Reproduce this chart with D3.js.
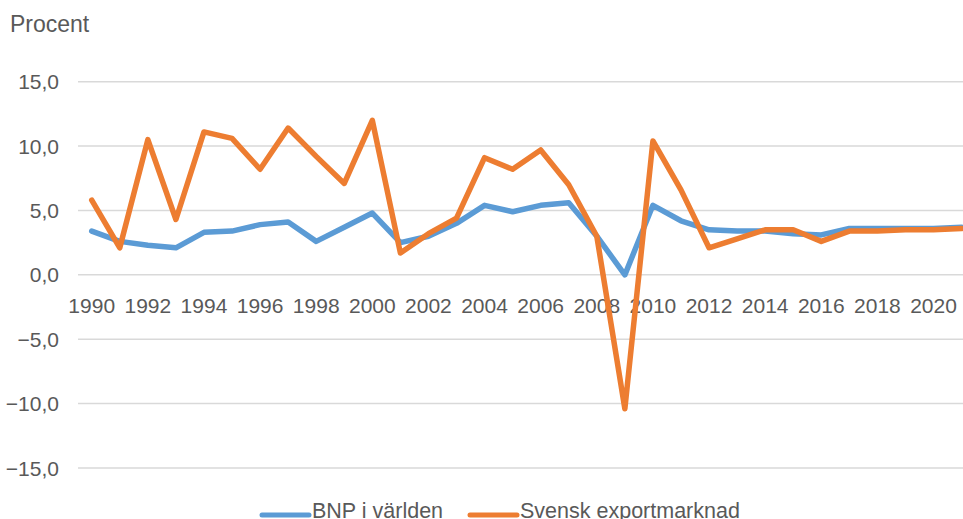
<!DOCTYPE html>
<html>
<head>
<meta charset="utf-8">
<script src="https://cdn.jsdelivr.net/npm/d3@7"></script>
<style>
  html, body { margin: 0; padding: 0; background: #fff; }
  svg { display: block; }
  text { font-family: "Liberation Sans", Arial, sans-serif; fill: #595959; }
</style>
</head>
<body>
<svg id="chart" width="963" height="519"></svg>
<script>
const years = d3.range(1990, 2022);
const yearLabels = ["1990","1992","1994","1996","1998","2000","2002","2004","2006","2008","2010","2012","2014","2016","2018","2020"];
const bnpVarlden = [3.4, 2.6, 2.3, 2.1, 3.3, 3.4, 3.9, 4.1, 2.6, 3.7, 4.8, 2.5, 3.0, 4.0, 5.4, 4.9, 5.4, 5.6, 3.0, 0.0, 5.4, 4.2, 3.5, 3.4, 3.4, 3.2, 3.1, 3.6, 3.6, 3.6, 3.6, 3.7];
const svenskExport = [5.8, 2.1, 10.5, 4.3, 11.1, 10.6, 8.2, 11.4, 9.2, 7.1, 12.0, 1.7, 3.2, 4.4, 9.1, 8.2, 9.7, 7.0, 3.0, -10.4, 10.4, 6.6, 2.1, 2.8, 3.5, 3.5, 2.6, 3.4, 3.4, 3.5, 3.5, 3.6];
const yTicks = [-15, -10, -5, 0, 5, 10, 15];
const seriesNames = ["BNP i världen", "Svensk exportmarknad"];
const colors = ["#5B9BD5", "#ED7D31"];

const svg = d3.select("#chart");
const x = d3.scaleBand().domain(years).range([77.7, 975.6]).padding(0);
const y = d3.scaleLinear().domain([-15, 15]).range([468, 81.7]);
const fmt = v => d3.format(".1f")(v).replace(".", ",");

// gridlines
svg.append("g").selectAll("line").data(yTicks).join("line")
  .attr("x1", 78).attr("x2", 963)
  .attr("y1", d => y(d)).attr("y2", d => y(d))
  .attr("stroke", "#d9d9d9").attr("stroke-width", 1.5);

// y labels
svg.append("g").selectAll("text").data(yTicks).join("text")
  .attr("x", 59).attr("y", d => y(d)).attr("dy", "0.36em")
  .attr("text-anchor", "end").attr("font-size", 21)
  .text(fmt);

// x labels at zero line
svg.append("g").selectAll("text").data(yearLabels).join("text")
  .attr("x", d => x(+d) + x.bandwidth() / 2).attr("y", y(0) + 38.5)
  .attr("text-anchor", "middle").attr("font-size", 21)
  .text(d => d);

// title
svg.append("text").attr("x", 10).attr("y", 32).attr("font-size", 23).text("Procent");

// lines
const line = d3.line().x((d, i) => x(years[i]) + x.bandwidth() / 2).y(d => y(d));
[bnpVarlden, svenskExport].forEach((s, k) => {
  svg.append("path").datum(s).attr("d", line)
    .attr("fill", "none").attr("stroke", colors[k]).attr("stroke-width", 5.5)
    .attr("stroke-linejoin", "round").attr("stroke-linecap", "round");
});

// legend
const legendX = [262, 470];
seriesNames.forEach((n, k) => {
  svg.append("line").attr("x1", legendX[k]).attr("x2", legendX[k] + 47)
    .attr("y1", 515).attr("y2", 515)
    .attr("stroke", colors[k]).attr("stroke-width", 5).attr("stroke-linecap", "round");
  svg.append("text").attr("x", legendX[k] + 50).attr("y", 518).attr("font-size", 21.5).text(n);
});
</script>
</body>
</html>
